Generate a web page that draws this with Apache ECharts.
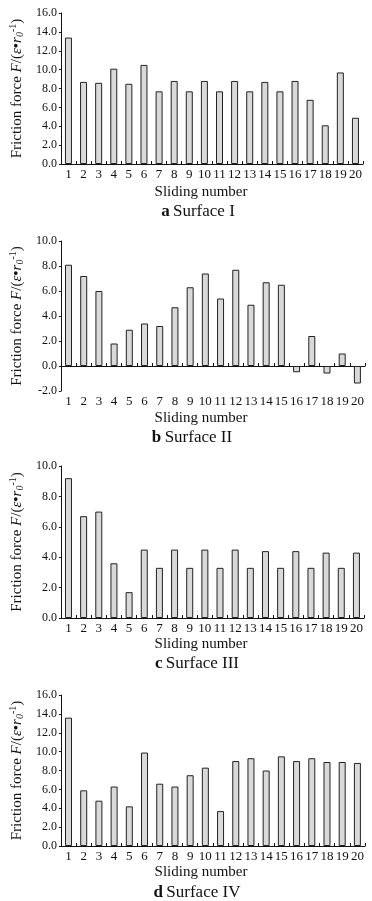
<!DOCTYPE html>
<html>
<head>
<meta charset="utf-8">
<script src="https://cdn.jsdelivr.net/npm/echarts@6/dist/echarts.min.js"></script>
<style>html,body{margin:0;padding:0;background:#fff;}#c{width:372px;height:901px;}</style>
</head>
<body>
<div id="c"></div>
<script>
var categories = ['1','2','3','4','5','6','7','8','9','10','11','12','13','14','15','16','17','18','19','20'];
var surfaceI   = [13.4, 8.7, 8.6, 10.1, 8.5, 10.5, 7.7, 8.8, 7.7, 8.8, 7.7, 8.8, 7.7, 8.7, 7.7, 8.8, 6.8, 4.1, 9.7, 4.9];
var surfaceII  = [8.1, 7.2, 6.0, 1.8, 2.9, 3.4, 3.2, 4.7, 6.3, 7.4, 5.4, 7.7, 4.9, 6.7, 6.5, -0.5, 2.4, -0.6, 1.0, -1.4];
var surfaceIII = [9.2, 6.7, 7.0, 3.6, 1.7, 4.5, 3.3, 4.5, 3.3, 4.5, 3.3, 4.5, 3.3, 4.4, 3.3, 4.4, 3.3, 4.3, 3.3, 4.3];
var surfaceIV  = [13.6, 5.9, 4.8, 6.3, 4.2, 9.9, 6.6, 6.3, 7.5, 8.3, 3.7, 9.0, 9.3, 8.0, 9.5, 9.0, 9.3, 8.9, 8.9, 8.8];
var yRanges = [[0,16],[-2,10],[0,10],[0,16]];
var captions = [['a','Surface I'],['b','Surface II'],['c','Surface III'],['d','Surface IV']];
var xTitle = 'Sliding number';

var FONT = '"Liberation Serif", "Times New Roman", serif';
var INK = '#111';
var grids = [
  {left:57, right:9, top:13, height:151},
  {left:56, right:7, top:241, height:150},
  {left:54, right:8, top:466, height:152},
  {left:55, right:7, top:695, height:151}
];
var xTitleY = [192, 418, 644, 872];
var capY = [212, 438, 664, 893];
var capX = [198, 192, 197, 197];
var seriesData = [surfaceI, surfaceII, surfaceIII, surfaceIV];

var yName = '{n|Friction force }{i|F}{n|/(}{i|ε}{n|•}{i|r}{sub|0}{sup|-1}{n|)}';
var nameRich = {
  n:{fontFamily:FONT,fontSize:15,color:INK},
  i:{fontFamily:FONT,fontSize:15,fontStyle:'italic',color:INK},
  sub:{fontFamily:FONT,fontSize:10,fontStyle:'italic',color:INK,padding:[6,0,0,0]},
  sup:{fontFamily:FONT,fontSize:10,color:INK,padding:[0,0,8,0]}
};

var xAxes = [], yAxes = [], series = [], graphics = [];
var xIdx = 0;
for (var k = 0; k < 4; k++) {
  var neg = yRanges[k][0] < 0;
  xAxes.push({
    type:'category', gridIndex:k, data:categories, position:'bottom',
    axisLine:{show:true, onZero:true, lineStyle:{color:INK,width:1}},
    axisTick:{show:true, inside:true, length:3, lineStyle:{color:INK}},
    axisLabel:{show:!neg, interval:0, margin:4, fontFamily:FONT, fontSize:13, color:INK},
    splitLine:{show:false}
  });
  var mainX = xIdx; xIdx++;
  if (neg) {
    xAxes.push({
      type:'category', gridIndex:k, data:categories, position:'bottom',
      axisLine:{show:false, onZero:false},
      axisTick:{show:false},
      axisLabel:{show:true, interval:0, margin:4, fontFamily:FONT, fontSize:13, color:INK},
      splitLine:{show:false}
    });
    xIdx++;
  }
  yAxes.push({
    type:'value', gridIndex:k, min:yRanges[k][0], max:yRanges[k][1], interval:2,
    axisLine:{show:true, lineStyle:{color:INK,width:1}},
    axisTick:{show:true, length:2, lineStyle:{color:INK}},
    axisLabel:{margin:4, fontFamily:FONT, fontSize:12, color:INK, formatter:function(v){return v.toFixed(1);}},
    splitLine:{show:false},
    name:yName, nameLocation:'middle', nameGap:32, nameRotate:90,
    nameTextStyle:{rich:nameRich, fontFamily:FONT, fontSize:15, color:INK}
  });
  series.push({
    type:'bar', xAxisIndex:mainX, yAxisIndex:k, data:seriesData[k],
    barWidth:7,
    itemStyle:{color:'#d9d9d9', borderColor:'#222', borderWidth:1},
    animation:false
  });
  graphics.push({
    type:'text', x:201, y:xTitleY[k],
    style:{text:xTitle, fontFamily:FONT, fontSize:15, fill:INK, align:'center', verticalAlign:'middle'}
  });
  graphics.push({
    type:'text', x:capX[k], y:capY[k],
    style:{text:'{b|'+captions[k][0]+'} {n|'+captions[k][1]+'}', align:'center', verticalAlign:'middle',
      rich:{b:{fontFamily:FONT,fontSize:17,fontWeight:'bold',fill:INK,color:INK}, n:{fontFamily:FONT,fontSize:17,fill:INK,color:INK}}}
  });
}

var chart = echarts.init(document.getElementById('c'), null, {renderer:'canvas'});
chart.setOption({
  animation:false,
  backgroundColor:'#fff',
  grid:grids,
  xAxis:xAxes,
  yAxis:yAxes,
  series:series,
  graphic:graphics
});
</script>
</body>
</html>
